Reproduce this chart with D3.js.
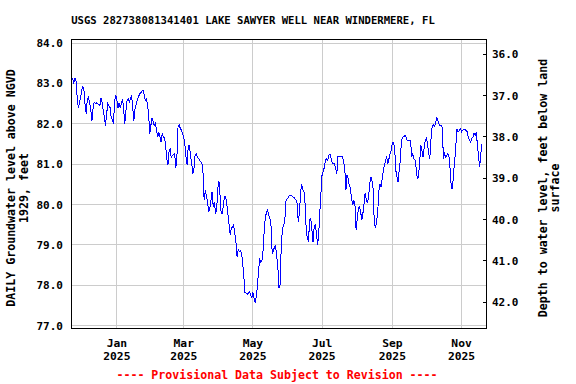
<!DOCTYPE html>
<html>
<head>
<meta charset="utf-8">
<script src="https://cdn.jsdelivr.net/npm/d3@7"></script>
<style>
  body { margin: 0; background: #fff; }
  text { font-family: "DejaVu Sans Mono", monospace; font-weight: bold; }
</style>
</head>
<body>
<svg id="chart" width="576" height="384"></svg>
<script>
// ── Data ──────────────────────────────────────────────────────────────────────
const titleText  = 'USGS 282738081341401 LAKE SAWYER WELL NEAR WINDERMERE, FL';
const leftTitle  = ['DAILY Groundwater level above NGVD', '1929, feet'];
const rightTitle = ['Depth to water level, feet below land', 'surface'];
const footerText = '---- Provisional Data Subject to Revision ----';

const levelTicks = [77, 78, 79, 80, 81, 82, 83, 84];
const depthTicks = [36, 37, 38, 39, 40, 41, 42];
const monthTicks = ['2025-01-01', '2025-03-01', '2025-05-01', '2025-07-01', '2025-09-01', '2025-11-01'];
const monthNames = ['Jan', 'Mar', 'May', 'Jul', 'Sep', 'Nov'];

// days since 2025-01-01
const dayOffset = [
  -40, -39, -38, -37, -36, -35, -34, -33, -32, -31,
  -30, -29, -28, -27, -26, -25, -23, -22, -21, -20,
  -19, -18, -17, -15, -14, -13, -12, -11, -10, -9,
  -8, -6, -5, -4, -3, -2, -1, 0, 1, 2,
  3, 4, 5, 6, 7, 8, 9, 10, 11, 13,
  14, 15, 16, 17, 18, 19, 20, 22, 23, 24,
  25, 26, 27, 28, 29, 30, 31, 32, 33, 34,
  35, 36, 37, 38, 39, 40, 41, 42, 43, 44,
  45, 46, 47, 48, 49, 51, 52, 53, 54, 55,
  56, 57, 58, 59, 60, 61, 62, 63, 64, 65,
  66, 67, 68, 69, 70, 71, 72, 74, 75, 76,
  77, 78, 79, 80, 81, 82, 83, 84, 85, 86,
  87, 88, 89, 90, 91, 92, 93, 94, 95, 96,
  97, 98, 99, 100, 101, 102, 103, 104, 105, 106,
  107, 108, 109, 110, 111, 112, 113, 114, 115, 116,
  117, 118, 119, 120, 121, 122, 123, 124, 125, 126,
  127, 128, 129, 130, 131, 132, 133, 134, 135, 136,
  137, 138, 139, 140, 141, 142, 143, 144, 145, 146,
  147, 148, 149, 150, 151, 152, 153, 154, 155, 156,
  157, 158, 159, 160, 161, 162, 163, 164, 165, 166,
  167, 168, 169, 170, 171, 172, 173, 174, 175, 176,
  177, 178, 179, 180, 181, 182, 183, 184, 185, 186,
  187, 188, 189, 190, 191, 192, 193, 194, 195, 196,
  197, 198, 199, 200, 201, 202, 203, 204, 205, 206,
  207, 208, 209, 210, 211, 212, 213, 214, 215, 216,
  217, 218, 219, 220, 221, 222, 223, 224, 225, 226,
  227, 228, 229, 230, 231, 232, 233, 234, 235, 236,
  237, 238, 239, 240, 241, 242, 243, 244, 245, 246,
  247, 248, 249, 250, 251, 252, 253, 254, 255, 256,
  257, 258, 259, 260, 261, 262, 263, 264, 265, 266,
  267, 268, 269, 270, 271, 272, 273, 274, 275, 276,
  277, 278, 279, 280, 281, 282, 283, 284, 285, 286,
  287, 288, 289, 290, 291, 292, 293, 294, 295, 296,
  297, 298, 299, 300, 301, 302, 303, 304, 305, 306,
  307, 308, 309, 310, 311, 312, 313, 314, 315, 316,
  317, 318, 319, 320, 321, 322
];

// daily groundwater level, feet above NGVD 1929
const level = [
  83.13, 83.12, 83.00, 83.13, 83.05, 82.66, 82.40, 82.50, 82.66, 82.83,
  82.93, 82.83, 82.46, 82.25, 82.62, 82.66, 82.37, 82.06, 82.38, 82.54,
  82.51, 82.52, 82.50, 82.45, 82.64, 82.54, 82.33, 82.17, 81.96, 82.25,
  82.50, 82.40, 82.15, 82.10, 82.00, 82.54, 82.72, 82.58, 82.40, 82.52,
  82.40, 82.50, 82.62, 82.37, 82.00, 82.33, 82.58, 82.62, 82.54, 82.70,
  82.40, 82.08, 82.37, 82.48, 82.58, 82.66, 82.74, 82.80, 82.84, 82.74,
  82.58, 82.62, 82.50, 82.25, 81.74, 81.96, 82.15, 82.05, 81.96, 82.02,
  81.84, 81.67, 81.80, 81.67, 81.55, 81.76, 81.67, 81.67, 81.47, 81.14,
  80.98, 81.30, 81.39, 81.15, 81.22, 81.26, 80.90, 81.20, 81.96, 81.98,
  81.88, 81.84, 81.76, 81.67, 81.50, 81.18, 80.98, 81.47, 81.45, 81.22,
  81.02, 80.77, 80.90, 81.22, 81.26, 81.18, 81.14, 81.06, 81.02, 80.77,
  80.11, 80.36, 80.20, 80.07, 79.82, 79.90, 80.11, 80.32, 79.95, 80.07,
  79.78, 79.86, 80.40, 80.59, 80.23, 79.78, 79.78, 80.00, 80.20, 80.20,
  80.00, 79.74, 79.49, 79.25, 79.41, 79.45, 79.49, 79.29, 79.08, 78.71,
  78.88, 78.84, 78.86, 78.79, 78.55, 78.22, 77.81, 77.81, 77.77, 77.81,
  77.85, 77.77, 77.68, 77.83, 77.68, 77.56, 77.72, 78.01, 78.38, 78.63,
  78.57, 78.63, 78.88, 79.37, 79.70, 79.80, 79.86, 79.74, 79.66, 79.45,
  78.79, 78.84, 78.96, 78.99, 78.71, 78.46, 77.93, 78.01, 79.00, 79.37,
  79.49, 79.54, 80.07, 80.13, 80.17, 80.23, 80.23, 80.22, 80.20, 80.18,
  80.15, 80.11, 80.03, 79.57, 79.78, 80.28, 80.51, 80.36, 80.32, 80.03,
  79.37, 79.17, 79.08, 79.62, 79.66, 79.37, 79.08, 79.45, 79.49, 79.29,
  79.00, 79.25, 79.82, 80.28, 80.75, 80.81, 80.93, 81.10, 81.14, 81.10,
  81.22, 81.26, 81.14, 81.03, 81.02, 81.01, 80.90, 80.77, 81.18, 81.18,
  81.19, 81.18, 81.18, 81.06, 80.90, 80.36, 80.73, 80.65, 80.48, 80.40,
  80.15, 79.99, 80.11, 79.99, 79.37, 79.66, 79.90, 79.95, 79.82, 79.62,
  79.78, 80.03, 80.29, 80.11, 80.03, 80.20, 80.52, 80.69, 80.60, 80.40,
  79.57, 79.41, 79.57, 79.78, 80.32, 80.52, 80.44, 80.64, 80.85, 80.98,
  81.10, 81.18, 81.02, 81.14, 81.26, 81.35, 81.55, 81.55, 81.39, 80.85,
  80.69, 80.56, 80.85, 81.10, 81.60, 81.67, 81.68, 81.72, 81.67, 81.60,
  81.60, 81.60, 81.60, 81.18, 81.26, 81.14, 81.10, 80.90, 80.64, 80.69,
  81.02, 81.47, 81.35, 81.18, 81.39, 81.60, 81.64, 81.50, 81.26, 81.14,
  81.60, 81.92, 81.99, 81.95, 82.00, 82.17, 82.09, 82.00, 81.96, 81.96,
  81.92, 81.14, 81.26, 81.18, 81.22, 81.26, 81.18, 80.85, 80.40, 80.40,
  80.81, 81.10, 81.47, 81.88, 81.80, 81.84, 81.88, 81.80, 81.84, 81.86,
  81.86, 81.84, 81.80, 81.67, 81.60, 81.55, 81.64, 81.67, 81.76, 81.72,
  81.80, 81.47, 81.18, 80.93, 81.26, 81.50
];

// ── Layout ────────────────────────────────────────────────────────────────────
const PLOT_LEFT   = 71.5;
const PLOT_RIGHT  = 486.5;
const PLOT_TOP    = 39.5;
const PLOT_BOTTOM = 328.5;

const svg = d3.select('#chart');
const parseDay = d3.utcParse('%Y-%m-%d');
const origin = parseDay('2025-01-01');

const series = dayOffset.map((d, i) => ({ date: d3.utcDay.offset(origin, d), v: level[i] }));

const x = d3.scaleUtc()
  .domain([parseDay('2024-11-22'), parseDay('2025-11-23')])
  .range([PLOT_LEFT, PLOT_RIGHT]);
const y = d3.scaleLinear().domain([76.93, 84.09]).range([PLOT_BOTTOM, PLOT_TOP]);
const yDepth = d3.scaleLinear().domain([42.64, 35.64]).range([PLOT_BOTTOM, PLOT_TOP]);

const snap = v => Math.round(v - 0.5) + 0.5;

// ── Grid ──────────────────────────────────────────────────────────────────────
const grid = svg.append('g')
  .attr('stroke', '#cccccc').attr('stroke-width', 1).attr('shape-rendering', 'crispEdges');

grid.selectAll('line.h').data(levelTicks).join('line')
  .attr('class', 'h')
  .attr('x1', PLOT_LEFT).attr('x2', PLOT_RIGHT)
  .attr('y1', d => snap(y(d))).attr('y2', d => snap(y(d)));

grid.selectAll('line.v').data(monthTicks).join('line')
  .attr('class', 'v')
  .attr('y1', PLOT_TOP).attr('y2', PLOT_BOTTOM)
  .attr('x1', d => snap(x(parseDay(d)))).attr('x2', d => snap(x(parseDay(d))));

// ── Series line ───────────────────────────────────────────────────────────────
svg.append('clipPath').attr('id', 'plot-clip')
  .append('rect')
  .attr('x', PLOT_LEFT).attr('y', PLOT_TOP)
  .attr('width', PLOT_RIGHT - PLOT_LEFT).attr('height', PLOT_BOTTOM - PLOT_TOP);

const line = d3.line().x(d => x(d.date)).y(d => y(d.v));

svg.append('path')
  .datum(series)
  .attr('clip-path', 'url(#plot-clip)')
  .attr('fill', 'none')
  .attr('stroke', '#0000ff')
  .attr('stroke-width', 1)
  .attr('shape-rendering', 'crispEdges')
  .attr('d', line);

// ── Frame ─────────────────────────────────────────────────────────────────────
svg.append('rect')
  .attr('x', PLOT_LEFT).attr('y', PLOT_TOP)
  .attr('width', PLOT_RIGHT - PLOT_LEFT).attr('height', PLOT_BOTTOM - PLOT_TOP)
  .attr('fill', 'none').attr('stroke', '#000').attr('shape-rendering', 'crispEdges');

// ── Axes labels ───────────────────────────────────────────────────────────────
svg.append('g').selectAll('text').data(levelTicks).join('text')
  .attr('x', 63).attr('y', d => y(d) + 4)
  .attr('text-anchor', 'end').attr('font-size', 11)
  .text(d => d.toFixed(1));

svg.append('g')
  .attr('stroke', '#000').attr('shape-rendering', 'crispEdges')
  .selectAll('line').data(depthTicks).join('line')
  .attr('x1', PLOT_RIGHT - 4).attr('x2', PLOT_RIGHT)
  .attr('y1', d => snap(yDepth(d))).attr('y2', d => snap(yDepth(d)));

svg.append('g').selectAll('text').data(depthTicks).join('text')
  .attr('x', 492).attr('y', d => yDepth(d) + 4)
  .attr('font-size', 11)
  .text(d => d.toFixed(1));

const months = svg.append('g').selectAll('text').data(monthTicks).join('text')
  .attr('text-anchor', 'middle').attr('font-size', 11.3);
months.append('tspan')
  .attr('x', d => x(parseDay(d))).attr('y', 346.5)
  .text((d, i) => monthNames[i]);
months.append('tspan')
  .attr('x', d => x(parseDay(d))).attr('y', 359.5)
  .text(d => d.slice(0, 4));

// ── Titles ────────────────────────────────────────────────────────────────────
svg.append('text')
  .attr('x', 253).attr('y', 24)
  .attr('text-anchor', 'middle').attr('font-size', 10.6)
  .text(titleText);

svg.append('text')
  .attr('x', 277).attr('y', 378.5)
  .attr('text-anchor', 'middle').attr('font-size', 11.6)
  .attr('fill', '#ff0000')
  .text(footerText);

[15, 27.5].forEach((bx, i) => {
  svg.append('text')
    .attr('transform', `translate(${bx},188) rotate(-90)`)
    .attr('text-anchor', 'middle').attr('font-size', 11.6)
    .text(leftTitle[i]);
});

[546.7, 559.3].forEach((bx, i) => {
  svg.append('text')
    .attr('transform', `translate(${bx},188) rotate(-90)`)
    .attr('text-anchor', 'middle').attr('font-size', 11.6)
    .text(rightTitle[i]);
});
</script>
</body>
</html>
